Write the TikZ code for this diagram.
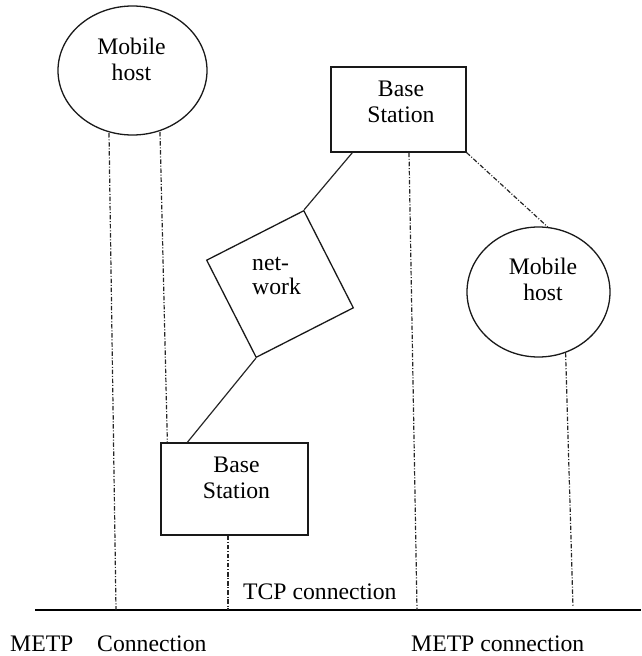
\documentclass[tikz,border=0pt]{standalone}
\usepackage{fontspec}
\setmainfont{Liberation Serif}
\usetikzlibrary{shapes.geometric,calc}
\begin{document}
\begin{tikzpicture}[x=1pt,y=-1pt,
  shapeline/.style={draw=black!90, line width=1.3pt},
  hostshape/.style={shapeline, ellipse, inner sep=0pt},
  boxshape/.style={shapeline, rectangle, inner sep=0pt},
  lbl/.style={font=\fontsize{23.7}{26}\selectfont, align=center, inner sep=0pt, text=black},
  solidlink/.style={draw=black!85, line width=1.2pt},
  dashdot/.style={draw=black!85, line width=1.2pt, dash pattern=on 4.5pt off 1.8pt on 1pt off 1.8pt},
  baseline/.style={draw=black, line width=1.8pt},
  caption/.style={font=\fontsize{23.7}{26}\selectfont, inner sep=0pt, anchor=base west}
]
\useasboundingbox (0,0) rectangle (641,656);

% shapes
\node[hostshape, minimum width=149pt, minimum height=129pt] (mh1) at (132.5,70.5) {};
\node[lbl] (mh1t) at (131.5,58.9) {Mobile\\host};
\node[boxshape, minimum width=135pt, minimum height=85pt] (bs1) at (398.5,109.5) {};
\node[lbl] (bs1t) at (401,102.2) {Base\\Station};
\node[boxshape, minimum size=109pt, rotate=27] (net) at (280,284) {};
\node[lbl, align=left, anchor=west, font=\fontsize{23.7}{23.3}\selectfont] (nett) at (252,275.8) {net-\\work};
\node[hostshape, minimum width=143pt, minimum height=130pt] (mh2) at (538.5,292) {};
\node[lbl] (mh2t) at (543,279) {Mobile\\host};
\node[boxshape, minimum width=147pt, minimum height=92pt] (bs2) at (234.5,489) {};
\node[lbl] (bs2t) at (236.5,478.2) {Base\\Station};

% base line
\coordinate (bl) at (35,610);
\coordinate (br) at (641,610);
\draw[baseline] (bl) -- (br);

% dash-dot connection lines
\coordinate (l1top) at (109,133);
\coordinate (l1bot) at (116,610);
\coordinate (l2top) at (160,132);
\coordinate (l3bot) at (228,610);
\coordinate (l4bot) at (417,610);
\coordinate (l6bot) at (573,607);
\draw[dashdot] (l1top) -- (l1bot);
\draw[dashdot] (l2top) -- ($(bs2.north west)+(7,0)$);
\draw[dashdot] ($(bs2.south)+(-6.5,0)$) -- (l3bot);
\draw[dashdot] ($(bs1.south)+(10.5,0)$) -- (l4bot);
\draw[dashdot] (bs1.south east) -- (mh2.82);
\draw[dashdot] (mh2.-66) -- (l6bot);

% solid links
\draw[solidlink] ($(bs1.south west)+(22,0)$) -- (net.north east);
\draw[solidlink] (net.south west) -- ($(bs2.north west)+(27,0)$);

% captions
\node[caption] (tcp) at (243,599) {TCP connection};
\node[caption] (metp1) at (10,651) {METP};
\node[caption] (conn1) at (97,651) {Connection};
\node[caption] (metp2) at (411,651) {METP connection};
\end{tikzpicture}
\end{document}
